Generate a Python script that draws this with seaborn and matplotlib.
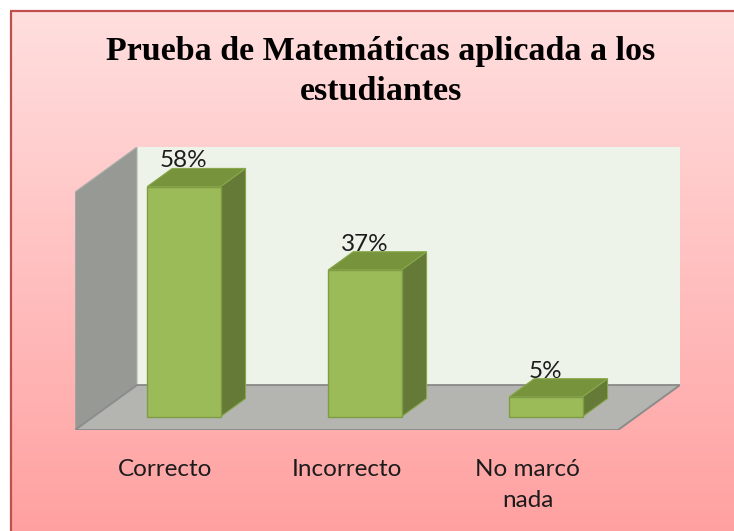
import numpy as np
import matplotlib
matplotlib.use("Agg")
import matplotlib.pyplot as plt
import seaborn as sns
from matplotlib.patches import Polygon
from matplotlib.lines import Line2D
from matplotlib.transforms import Affine2D

# datos
categorias = ["Correcto", "Incorrecto", "No marcó\nnada"]
porcentajes = [58, 37, 5]
etiquetas = ["58%", "37%", "5%"]
y_max = 60

# estilo / geometría del "3D"
W, H, DPI = 734, 531, 100
DX, DY = 0.3425, 11.33        # profundidad total (unidades de datos)
F_FRONT, F_BACK = 0.296, 0.70  # posición de la barra dentro de la profundidad
ANCHO = 0.405

VERDE = "#9bbb59"
VERDE_TOP = "#77933c"
VERDE_LADO = "#647a36"

sns.set_theme(style="white")
plt.rcParams["font.family"] = ["Lato", "DejaVu Sans"]

fig = plt.figure(figsize=(W / DPI, H / DPI), dpi=DPI)
fig.patch.set_facecolor("white")

# fondo degradado con borde (solo arriba e izquierda)
bg = fig.add_axes([11 / W, -0.01, 1.02 - 11 / W, 1.01 - 11 / H])
grad = np.linspace(0, 1, 256).reshape(-1, 1)
cmap = matplotlib.colors.LinearSegmentedColormap.from_list("rosa", ["#ffdfdf", "#ffa0a0"])
bg.imshow(grad, aspect="auto", cmap=cmap, extent=[0, 1, 0, 1], origin="upper")
bg.axis("off")
borde = dict(color="#c0504d", linewidth=1.6, transform=fig.transFigure, solid_capstyle="butt")
fig.add_artist(Line2D([11 / W, 11 / W], [0, 1 - 11 / H], **borde))
fig.add_artist(Line2D([10.2 / W, 1], [1 - 11 / H, 1 - 11 / H], **borde))

# ejes del gráfico (plano frontal: x 75..618, y 430..192)
x0, x1, ytop, ybot = 75, 680, 147, 430
ax = fig.add_axes([x0 / W, 1 - ybot / H, (x1 - x0) / W, (ybot - ytop) / H])
ax.patch.set_alpha(0)

# paredes y piso
pared_fondo = Polygon([(-0.5 + DX, DY), (2.5 + DX, DY), (2.5 + DX, y_max + DY), (-0.5 + DX, y_max + DY)],
                      closed=True, facecolor="#eef3ea", edgecolor="none", zorder=0)
pared_izq = Polygon([(-0.5, 0), (-0.5 + DX, DY), (-0.5 + DX, y_max + DY), (-0.5, y_max)],
                    closed=True, facecolor="#979995", edgecolor="#b0b0ad", linewidth=0.8, zorder=0)
piso = Polygon([(-0.5, 0), (2.5, 0), (2.5 + DX, DY), (-0.5 + DX, DY)],
               closed=True, facecolor="#b4b5b1", edgecolor="#8c8c8a", linewidth=1.4, zorder=0.5)
for p in (pared_fondo, pared_izq, piso):
    ax.add_patch(p)

# caras frontales de las barras (seaborn), desplazadas en profundidad
sns.barplot(x=categorias, y=porcentajes, width=ANCHO, color=VERDE, saturation=1,
            edgecolor="#7f9c45", linewidth=1, ax=ax, zorder=3)
desplazar = Affine2D().translate(F_FRONT * DX, F_FRONT * DY) + ax.transData
for barra in ax.patches[3:]:
    barra.set_transform(desplazar)

# caras superior y lateral
for i, v in enumerate(porcentajes):
    xl = i - ANCHO / 2 + F_FRONT * DX
    xr = i + ANCHO / 2 + F_FRONT * DX
    yb = F_FRONT * DY
    ddx = (F_BACK - F_FRONT) * DX
    ddy = (F_BACK - F_FRONT) * DY
    top = Polygon([(xl, v + yb), (xr, v + yb), (xr + ddx, v + yb + ddy), (xl + ddx, v + yb + ddy)],
                  closed=True, facecolor=VERDE_TOP, edgecolor="#86a84a", linewidth=0.8, zorder=2)
    lado = Polygon([(xr, yb), (xr + ddx, yb + ddy), (xr + ddx, v + yb + ddy), (xr, v + yb)],
                   closed=True, facecolor=VERDE_LADO, edgecolor="#86a84a", linewidth=0.8, zorder=2)
    ax.add_patch(lado)
    ax.add_patch(top)
    ax.text(i + F_FRONT * DX, v + F_BACK * DY + 0.3, etiquetas[i], ha="center", va="baseline",
            fontsize=17.5, color="#1c1c1c", zorder=5)

ax.set_xlim(-0.5, 2.5 + DX)
ax.set_ylim(0, y_max + DY)
ax.set_xticks(range(len(categorias)))
ax.set_xticklabels(categorias, fontsize=17.5, color="#1c1c1c")
for t in ax.get_xticklabels():
    t.set_linespacing(1.55)
ax.tick_params(axis="x", length=0, pad=21)
ax.set_yticks([])
ax.set_xlabel("")
ax.set_ylabel("")
for s in ax.spines.values():
    s.set_visible(False)

# título
fig.text(381 / W, 1 - 60 / H, "Prueba de Matemáticas aplicada a los", ha="center", va="baseline",
         fontsize=24.5, fontweight="bold", family="Liberation Serif", color="black")
fig.text(381 / W, 1 - 100 / H, "estudiantes", ha="center", va="baseline",
         fontsize=24.5, fontweight="bold", family="Liberation Serif", color="black")

fig.savefig("out.png", dpi=DPI)
